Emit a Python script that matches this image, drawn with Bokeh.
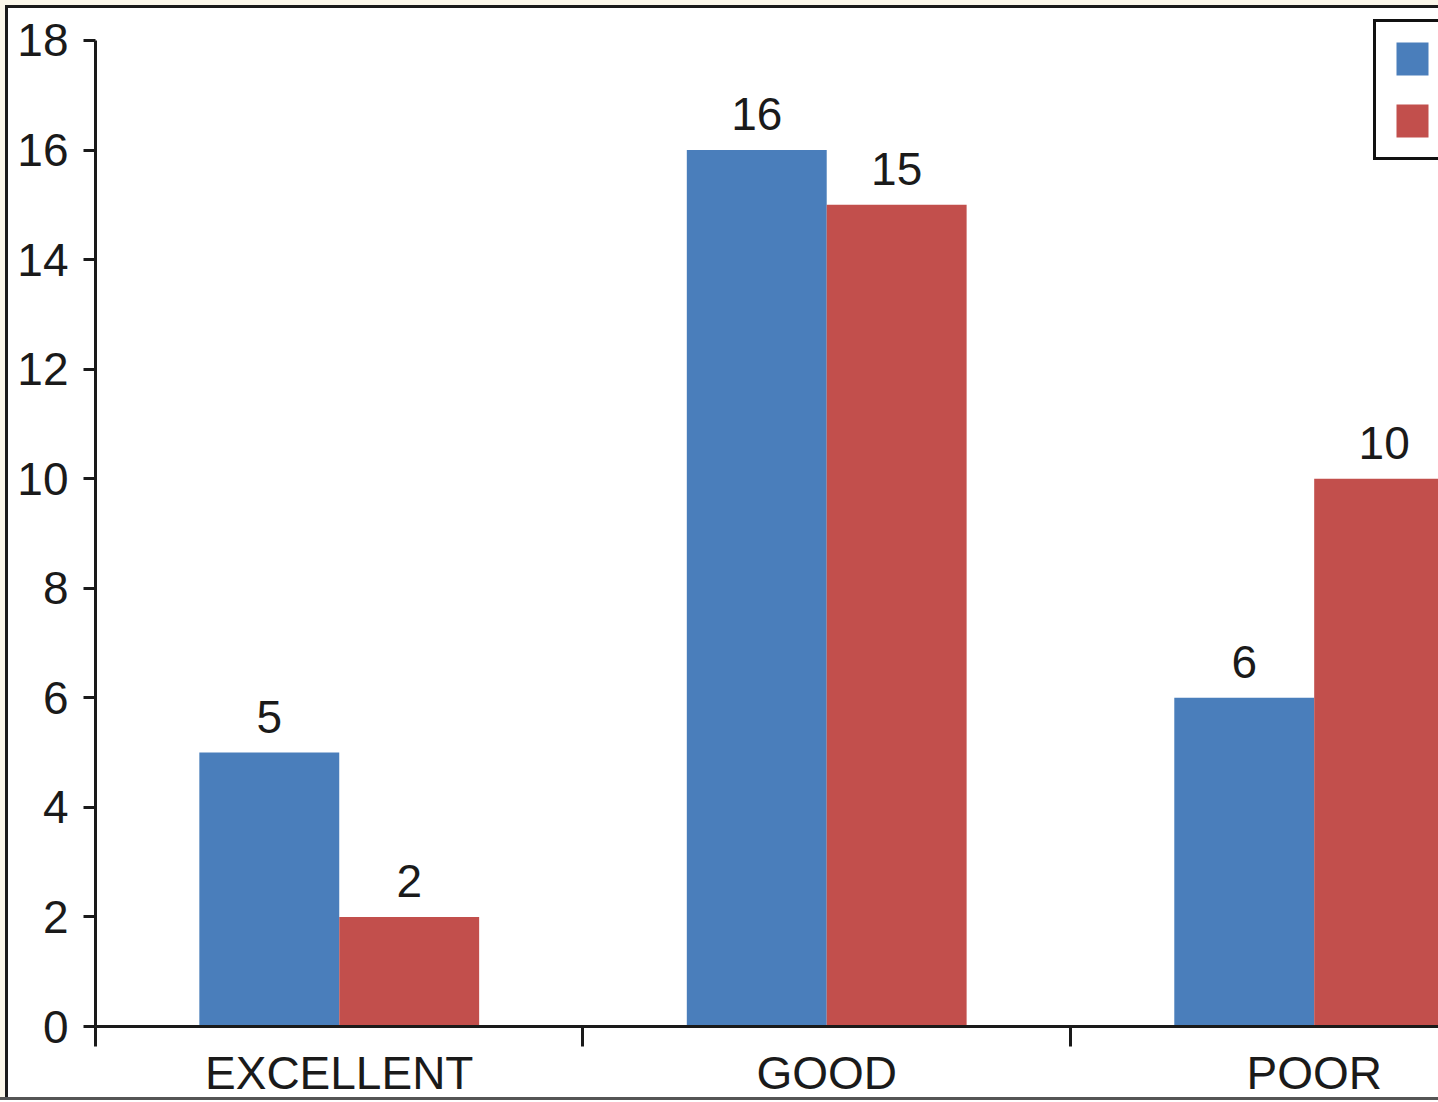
from bokeh.plotting import figure
from bokeh.models import Range1d, FixedTicker, Legend, LegendItem, ColumnDataSource
from bokeh.core.properties import value
from bokeh.embed import file_html
from bokeh.resources import INLINE

# ---- data ----
categories = ["EXCELLENT", "GOOD", "POOR"]
series_blue = [5, 16, 6]
series_red = [2, 15, 10]
y_ticks = [0, 2, 4, 6, 8, 10, 12, 14, 16, 18]

FONT = "Liberation Sans"
TXT = "#1a1a1a"
BLUE = "#4a7ebb"
RED = "#c24f4c"

bar_w = 0.287
centers = [i + 0.5 for i in range(len(categories))]
x_blue = [c - bar_w / 2 for c in centers]
x_red = [c + bar_w / 2 for c in centers]

src_blue = ColumnDataSource(dict(x=x_blue, top=series_blue, lab=[str(v) for v in series_blue]))
src_red = ColumnDataSource(dict(x=x_red, top=series_red, lab=[str(v) for v in series_red]))

p = figure(width=1438, height=1102,
           x_range=Range1d(0, 2.755), y_range=Range1d(0, 18.584),
           output_backend="svg", toolbar_location=None,
           min_border_left=95, min_border_right=0, min_border_top=8, min_border_bottom=76,
           background_fill_color="white", border_fill_color=None,
           outline_line_color=None,
           styles={"background-color": "#ffffff",
                   "box-shadow": ("inset 0 -2px 0 0 #ffffff, inset 0 -5px 0 0 #555555, "
                                  "inset 5px 5px 0 0 #fbf7ea, inset 8px 8px 0 0 #1a1a1a")})

p.xgrid.grid_line_color = None
p.ygrid.grid_line_color = None

rb = p.vbar(x="x", top="top", width=bar_w, bottom=0, source=src_blue,
            fill_color=BLUE, line_color=None)
rr = p.vbar(x="x", top="top", width=bar_w, bottom=0, source=src_red,
            fill_color=RED, line_color=None)

for src in (src_blue, src_red):
    p.text(x="x", y="top", text="lab", source=src, y_offset=-36,
           text_align="center", text_baseline="alphabetic",
           text_font=value(FONT), text_font_size="46px", text_color=TXT)

# x axis
xa = p.xaxis[0]
xa.ticker = FixedTicker(ticks=centers, minor_ticks=[0, 1, 2])
xa.major_label_overrides = {c: n for c, n in zip(centers, categories)}
xa.axis_line_width = 3
xa.axis_line_color = TXT
xa.major_tick_line_color = None
xa.major_tick_out = 0
xa.major_tick_in = 0
xa.minor_tick_line_color = TXT
xa.minor_tick_line_width = 3
xa.minor_tick_out = 20
xa.minor_tick_in = 0
xa.major_label_standoff = 0
xa.major_label_text_font = FONT
xa.major_label_text_font_size = "46px"
xa.major_label_text_color = TXT

# y axis
ya = p.yaxis[0]
ya.ticker = FixedTicker(ticks=y_ticks, minor_ticks=[])
ya.bounds = (0, 18)
ya.axis_line_width = 3
ya.axis_line_color = TXT
ya.major_tick_line_color = TXT
ya.major_tick_line_width = 3
ya.major_tick_out = 12
ya.major_tick_in = 0
ya.minor_tick_line_color = None
ya.major_label_standoff = 15
ya.major_label_text_font = FONT
ya.major_label_text_font_size = "46px"
ya.major_label_text_color = TXT

legend = Legend(items=[LegendItem(label=value(""), renderers=[rb]),
                       LegendItem(label=value(""), renderers=[rr])],
                location=(1278, 866), orientation="vertical",
                glyph_width=40, glyph_height=41, padding=16, spacing=21,
                label_standoff=0, label_text_font_size="10px", margin=0,
                border_line_color="#111111", border_line_width=3, border_line_alpha=1.0,
                background_fill_color="white", background_fill_alpha=1.0)
p.add_layout(legend)

open("out.html", "w").write(file_html(p, INLINE))
